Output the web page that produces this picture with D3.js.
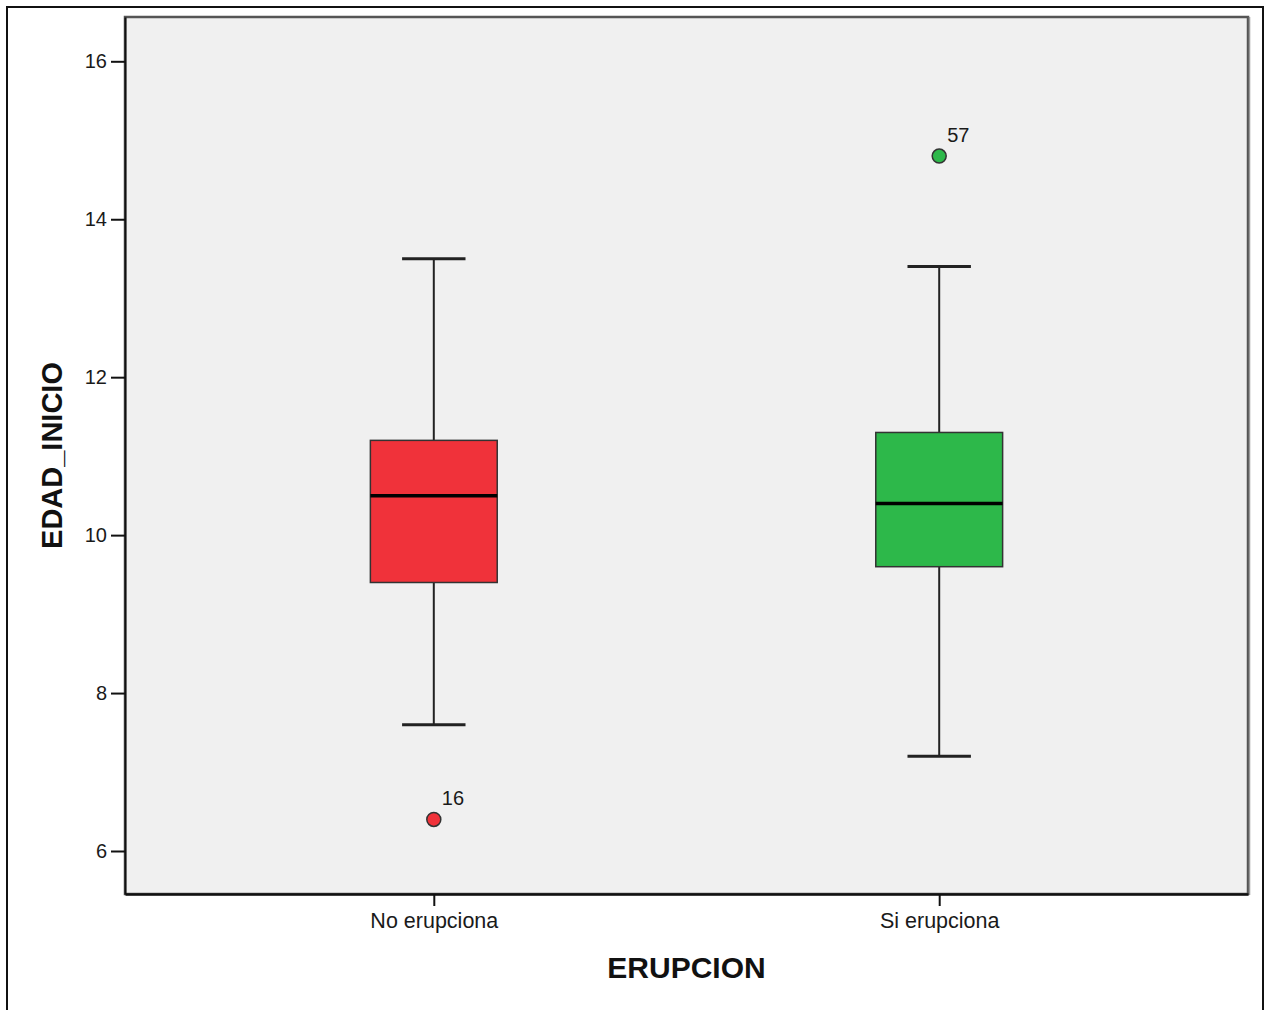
<!DOCTYPE html>
<html>
<head>
<meta charset="utf-8">
<script src="https://cdn.jsdelivr.net/npm/d3@7"></script>
<style>
html,body{margin:0;padding:0;background:#fff;}
svg{display:block;}
</style>
</head>
<body>
<svg id="chart" width="1271" height="1010"></svg>
<script>
// ---- data ----
const categories = ["No erupciona", "Si erupciona"];
const colors = ["#F0323A", "#2DB84A"];
const q1 = [9.4, 9.6];
const median = [10.5, 10.4];
const q3 = [11.2, 11.3];
const whiskerLow = [7.6, 7.2];
const whiskerHigh = [13.5, 13.4];
const outlierValues = [6.4, 14.8];
const outlierIds = ["16", "57"];
const yTicks = [6, 8, 10, 12, 14, 16];
const xTitle = "ERUPCION";
const yTitle = "EDAD_INICIO";

// ---- layout ----
const svg = d3.select("#chart");
const L = 125, R = 1248, T = 17, B = 894;
const FONT = "Liberation Sans, Arial, sans-serif";

svg.append("rect").attr("x", 7).attr("y", 7).attr("width", 1256).attr("height", 1010)
  .attr("fill", "#fff").attr("stroke", "#111").attr("stroke-width", 2);

const y = d3.scaleLinear().domain([5.4555, 16.561]).range([B, T]);
const x = d3.scalePoint().domain(categories).range([L, R]).padding(0.611);
const boxW = x.step() * 0.251;
const capW = boxW * 0.5;

// plot background
svg.append("rect").attr("x", L).attr("y", T).attr("width", R - L).attr("height", B - T)
  .attr("fill", "#F0F0F0").attr("stroke", "#555").attr("stroke-width", 2.5);
svg.append("line").attr("x1", R + 1.5).attr("x2", R + 1.5).attr("y1", T).attr("y2", B + 1)
  .attr("stroke", "#999").attr("stroke-width", 1.5);

// axes
const yAxis = d3.axisLeft(y).tickValues(yTicks).tickSizeInner(14).tickSizeOuter(0)
  .tickPadding(4).tickFormat(d3.format("d"));
const gy = svg.append("g").attr("transform", `translate(${L},0)`).call(yAxis);
gy.select(".domain").attr("stroke", "#111").attr("stroke-width", 2);
gy.selectAll(".tick line").attr("stroke", "#111").attr("stroke-width", 2);
gy.selectAll(".tick text").attr("font-family", FONT)
  .attr("font-size", 20).attr("fill", "#1a1a1a");

const xAxis = d3.axisBottom(x).tickSizeInner(12).tickSizeOuter(0).tickPadding(7);
const gx = svg.append("g").attr("transform", `translate(0,${B})`).call(xAxis);
gx.select(".domain").attr("stroke", "#111").attr("stroke-width", 2.5);
gx.selectAll(".tick line").attr("stroke", "#111").attr("stroke-width", 2);
gx.selectAll(".tick text").attr("font-family", FONT)
  .attr("font-size", 21.5).attr("fill", "#1a1a1a");

// boxes
categories.forEach((c, i) => {
  const cx = x(c);
  const g = svg.append("g");
  g.append("line").attr("x1", cx).attr("x2", cx).attr("y1", y(q3[i])).attr("y2", y(whiskerHigh[i]))
    .attr("stroke", "#222").attr("stroke-width", 2);
  g.append("line").attr("x1", cx).attr("x2", cx).attr("y1", y(q1[i])).attr("y2", y(whiskerLow[i]))
    .attr("stroke", "#222").attr("stroke-width", 2);
  [whiskerHigh[i], whiskerLow[i]].forEach(v => {
    g.append("line").attr("x1", cx - capW / 2).attr("x2", cx + capW / 2).attr("y1", y(v)).attr("y2", y(v))
      .attr("stroke", "#222").attr("stroke-width", 3);
  });
  g.append("rect").attr("x", cx - boxW / 2).attr("y", y(q3[i])).attr("width", boxW)
    .attr("height", y(q1[i]) - y(q3[i])).attr("fill", colors[i])
    .attr("stroke", "#333").attr("stroke-width", 1.5);
  g.append("line").attr("x1", cx - boxW / 2).attr("x2", cx + boxW / 2)
    .attr("y1", y(median[i])).attr("y2", y(median[i]))
    .attr("stroke", "#000").attr("stroke-width", 3.5);
  g.append("circle").attr("cx", cx).attr("cy", y(outlierValues[i])).attr("r", 7)
    .attr("fill", colors[i]).attr("stroke", "#333").attr("stroke-width", 1.5);
  g.append("text").attr("x", cx + 8).attr("y", y(outlierValues[i]) - 14)
    .attr("font-family", FONT).attr("font-size", 20)
    .attr("fill", "#1a1a1a").text(outlierIds[i]);
});

// titles
svg.append("text").attr("x", (L + R) / 2).attr("y", 978).attr("text-anchor", "middle")
  .attr("font-family", FONT).attr("font-size", 30)
  .attr("font-weight", "bold").attr("fill", "#111").text(xTitle);
svg.append("text").attr("transform", `translate(62,${(T + B) / 2}) rotate(-90)`)
  .attr("text-anchor", "middle")
  .attr("font-family", FONT).attr("font-size", 29)
  .attr("font-weight", "bold").attr("fill", "#111").text(yTitle);
</script>
</body>
</html>
